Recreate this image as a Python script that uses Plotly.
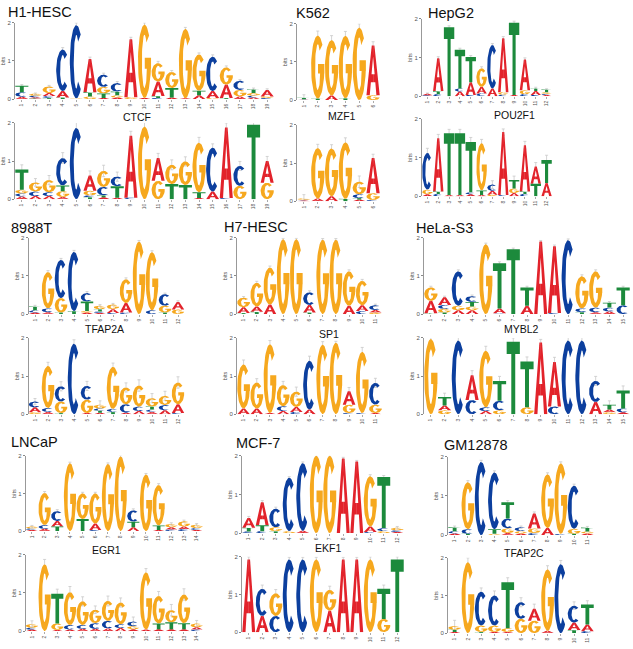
import numpy as np
import plotly.graph_objects as go

W, H = 633, 649

# cell line (de novo logo, top) and the known motif it matches (bottom)
CELL_LINES = ["H1-HESC", "K562", "HepG2", "8988T", "H7-HESC", "HeLa-S3", "LNCaP", "MCF-7", "GM12878"]
KNOWN_MOTIFS = ["CTCF", "MZF1", "POU2F1", "TFAP2A", "SP1", "MYBL2", "EGR1", "EKF1", "TFAP2C"]

# each position = stack of (base, bits) from bottom to top
H1_HESC = [
    [("A", 0.06), ("C", 0.12), ("T", 0.17)],
    [("T", 0.02), ("A", 0.03), ("C", 0.04), ("G", 0.05)],
    [("T", 0.03), ("C", 0.05), ("A", 0.08), ("G", 0.17)],
    [("T", 0.04), ("A", 0.17), ("C", 1.09)],
    [("G", 0.02), ("C", 1.92)],
    [("G", 0.07), ("T", 0.11), ("A", 0.87)],
    [("A", 0.03), ("T", 0.12), ("G", 0.17), ("C", 0.32)],
    [("A", 0.04), ("G", 0.06), ("T", 0.1), ("C", 0.22)],
    [("G", 0.05), ("A", 1.52)],
    [("A", 0.03), ("G", 1.92)],
    [("C", 0.03), ("T", 0.05), ("A", 0.38), ("G", 0.48)],
    [("A", 0.04), ("T", 0.25), ("G", 0.42)],
    [("A", 0.02), ("G", 1.82)],
    [("A", 0.1), ("T", 0.12), ("G", 0.95)],
    [("G", 0.03), ("A", 0.18), ("C", 0.9)],
    [("T", 0.03), ("A", 0.35), ("G", 0.45)],
    [("A", 0.07), ("G", 0.17), ("C", 0.24)],
    [("A", 0.04), ("C", 0.05), ("G", 0.07), ("T", 0.1)],
    [("C", 0.03), ("G", 0.04), ("A", 0.17)],
]
CTCF = [
    [("A", 0.07), ("C", 0.08), ("G", 0.1), ("T", 0.53)],
    [("A", 0.08), ("C", 0.12), ("G", 0.24)],
    [("A", 0.08), ("C", 0.1), ("G", 0.32)],
    [("A", 0.06), ("G", 0.15), ("T", 0.15), ("C", 0.72)],
    [("C", 1.87)],
    [("T", 0.05), ("C", 0.05), ("G", 0.12), ("A", 0.4)],
    [("A", 0.05), ("T", 0.05), ("C", 0.22), ("G", 0.42)],
    [("A", 0.04), ("T", 0.3), ("C", 0.25)],
    [("C", 0.04), ("A", 1.62)],
    [("G", 1.9)],
    [("G", 0.48), ("A", 0.6)],
    [("T", 0.4), ("G", 0.5)],
    [("T", 0.37), ("G", 0.62)],
    [("A", 0.03), ("T", 0.15), ("G", 1.3)],
    [("A", 0.2), ("C", 1.15)],
    [("C", 0.03), ("A", 1.85)],
    [("G", 0.35), ("C", 0.52)],
    [("T", 1.95)],
    [("G", 0.43), ("A", 0.57)],
]
K562 = [
    [("A", 0.01), ("C", 0.01), ("T", 0.04)],
    [("T", 0.04), ("G", 1.65)],
    [("A", 0.12), ("G", 1.45)],
    [("T", 0.05), ("G", 1.63)],
    [("G", 1.9)],
    [("G", 0.13), ("A", 1.3)],
]
MZF1 = [
    [("A", 0.02), ("C", 0.02), ("G", 0.03)],
    [("A", 0.07), ("G", 1.32)],
    [("A", 0.13), ("G", 1.25)],
    [("T", 0.06), ("G", 1.48)],
    [("A", 0.04), ("T", 0.04), ("C", 0.1), ("G", 0.33)],
    [("C", 0.03), ("G", 0.18), ("A", 0.92)],
]
HEPG2 = [
    [("C", 0.02), ("A", 0.04)],
    [("C", 0.05), ("T", 0.08), ("A", 0.85)],
    [("T", 1.78)],
    [("A", 0.12), ("C", 0.08), ("T", 1.0)],
    [("C", 0.03), ("A", 0.33), ("T", 0.65)],
    [("C", 0.07), ("A", 0.17), ("G", 0.48)],
    [("A", 0.2), ("C", 1.12)],
    [("C", 0.04), ("G", 0.06), ("A", 1.4)],
    [("A", 0.03), ("T", 1.87)],
    [("C", 0.05), ("G", 0.1), ("A", 0.8)],
    [("C", 0.03), ("A", 0.1), ("T", 0.07)],
    [("A", 0.03), ("C", 0.03), ("G", 0.04), ("T", 0.07)],
]
POU2F1 = [
    [("A", 0.05), ("G", 0.12), ("C", 0.95)],
    [("C", 0.06), ("T", 0.06), ("A", 1.38)],
    [("A", 0.03), ("T", 1.6)],
    [("A", 0.03), ("T", 1.6)],
    [("A", 0.05), ("C", 0.05), ("T", 1.3)],
    [("A", 0.03), ("T", 0.12), ("G", 1.22)],
    [("G", 0.04), ("A", 0.1), ("C", 0.16)],
    [("C", 0.03), ("A", 1.63)],
    [("A", 0.08), ("G", 0.12), ("T", 0.22)],
    [("C", 0.06), ("T", 0.06), ("A", 1.2)],
    [("T", 0.32), ("A", 0.45)],
    [("A", 0.34), ("T", 0.6)],
]
T8988 = [
    [("A", 0.04), ("C", 0.06), ("T", 0.1)],
    [("A", 0.05), ("C", 0.1), ("G", 0.95)],
    [("T", 0.04), ("G", 0.38), ("C", 1.0)],
    [("T", 0.08), ("C", 1.55)],
    [("A", 0.04), ("G", 0.04), ("T", 0.25), ("C", 0.22)],
    [("A", 0.03), ("C", 0.04), ("T", 0.06), ("G", 0.09)],
    [("C", 0.03), ("A", 0.1), ("G", 0.12)],
    [("C", 0.04), ("A", 0.25), ("G", 0.62)],
    [("G", 1.9)],
    [("C", 0.1), ("G", 1.52)],
    [("T", 0.04), ("G", 0.18), ("C", 0.3)],
    [("G", 0.12), ("A", 0.2)],
]
TFAP2A = [
    [("G", 0.05), ("A", 0.13), ("C", 0.15)],
    [("A", 0.06), ("C", 0.1), ("G", 1.1)],
    [("T", 0.03), ("G", 0.3), ("C", 0.4)],
    [("C", 1.85)],
    [("A", 0.03), ("G", 0.35), ("C", 0.36)],
    [("A", 0.04), ("T", 0.05), ("C", 0.06), ("G", 0.1)],
    [("T", 0.06), ("C", 0.08), ("G", 1.1)],
    [("A", 0.04), ("C", 0.22), ("G", 0.44)],
    [("A", 0.08), ("C", 0.12), ("G", 0.55)],
    [("A", 0.06), ("C", 0.06), ("T", 0.08), ("G", 0.22)],
    [("A", 0.1), ("C", 0.14), ("G", 0.24)],
    [("C", 0.03), ("A", 0.23), ("G", 0.57)],
]
H7_HESC = [
    [("T", 0.03), ("A", 0.15), ("G", 0.25)],
    [("T", 0.06), ("A", 0.14), ("G", 0.62)],
    [("A", 0.25), ("G", 0.97)],
    [("G", 1.96)],
    [("G", 1.96)],
    [("T", 0.04), ("A", 0.2), ("C", 0.33)],
    [("G", 1.95)],
    [("G", 1.95)],
    [("A", 0.22), ("G", 0.9)],
    [("C", 0.08), ("A", 0.15), ("G", 0.64)],
    [("G", 0.04), ("A", 0.07), ("C", 0.12)],
]
SP1 = [
    [("A", 0.15), ("G", 1.15)],
    [("A", 0.15), ("G", 0.68)],
    [("A", 0.03), ("G", 1.8)],
    [("A", 0.08), ("C", 0.13), ("G", 0.55)],
    [("C", 0.06), ("A", 0.13), ("G", 0.4)],
    [("A", 0.12), ("C", 1.28)],
    [("G", 1.82)],
    [("G", 1.87)],
    [("C", 0.03), ("G", 0.22), ("A", 0.35)],
    [("C", 0.03), ("G", 1.6)],
    [("A", 0.03), ("G", 0.22), ("C", 0.57)],
]
HELA_S3 = [
    [("T", 0.02), ("A", 0.33), ("G", 0.35)],
    [("T", 0.04), ("G", 0.1), ("C", 0.1), ("A", 0.2)],
    [("A", 0.1), ("G", 0.12), ("C", 0.9)],
    [("A", 0.1), ("G", 0.1), ("T", 0.12), ("C", 0.15)],
    [("G", 1.83)],
    [("C", 0.02), ("A", 0.13), ("T", 1.18)],
    [("T", 1.7)],
    [("A", 0.22), ("T", 0.48)],
    [("A", 1.9)],
    [("C", 0.03), ("A", 1.75)],
    [("C", 1.94)],
    [("T", 0.05), ("C", 0.1), ("G", 0.84)],
    [("A", 0.05), ("C", 0.12), ("G", 0.95)],
    [("A", 0.07), ("C", 0.1), ("T", 0.13)],
    [("C", 0.23), ("T", 0.47)],
]
MYBL2 = [
    [("G", 1.97)],
    [("G", 0.1), ("A", 0.13), ("T", 0.22)],
    [("C", 1.93)],
    [("C", 0.37), ("A", 0.65)],
    [("A", 0.08), ("C", 0.1), ("G", 1.48)],
    [("G", 0.1), ("C", 0.25), ("T", 0.52)],
    [("T", 1.9)],
    [("G", 0.18), ("T", 1.2)],
    [("A", 1.88)],
    [("C", 0.2), ("A", 1.17)],
    [("C", 1.93)],
    [("C", 1.93)],
    [("A", 0.32), ("C", 0.55)],
    [("G", 0.05), ("A", 0.07), ("T", 0.13)],
    [("A", 0.05), ("C", 0.1), ("T", 0.47)],
]
LNCAP = [
    [("A", 0.03), ("C", 0.04), ("G", 0.05)],
    [("A", 0.06), ("C", 0.1), ("G", 0.85)],
    [("T", 0.12), ("A", 0.15), ("C", 0.26)],
    [("G", 1.8)],
    [("T", 0.32), ("G", 0.68)],
    [("C", 0.03), ("A", 0.17), ("G", 0.8)],
    [("G", 1.78)],
    [("G", 1.98)],
    [("A", 0.1), ("T", 0.15), ("C", 0.3)],
    [("G", 1.5)],
    [("A", 0.03), ("T", 0.12), ("G", 1.07)],
    [("C", 0.04), ("A", 0.06), ("G", 0.09)],
    [("C", 0.05), ("A", 0.07), ("G", 0.14)],
    [("A", 0.03), ("C", 0.05), ("G", 0.09)],
]
EGR1 = [
    [("A", 0.04), ("C", 0.05), ("G", 0.1)],
    [("G", 1.75)],
    [("A", 0.03), ("G", 0.17), ("T", 0.78)],
    [("A", 0.04), ("C", 0.12), ("G", 0.86)],
    [("A", 0.06), ("C", 0.1), ("G", 0.62)],
    [("A", 0.06), ("C", 0.15), ("G", 0.35)],
    [("A", 0.07), ("C", 0.2), ("G", 0.52)],
    [("A", 0.08), ("C", 0.1), ("G", 0.57)],
    [("A", 0.05), ("G", 0.08), ("C", 0.12)],
    [("A", 0.04), ("G", 1.5)],
    [("A", 0.05), ("T", 0.15), ("G", 0.72)],
    [("A", 0.05), ("T", 0.18), ("G", 0.32)],
    [("A", 0.05), ("T", 0.16), ("G", 0.75)],
    [("C", 0.04), ("A", 0.06), ("G", 0.1)],
]
MCF7 = [
    [("C", 0.04), ("T", 0.1), ("A", 0.25)],
    [("C", 0.05), ("T", 0.15), ("A", 0.6)],
    [("T", 0.05), ("G", 0.1), ("C", 0.48)],
    [("G", 0.05), ("C", 1.38)],
    [("A", 0.06), ("C", 1.75)],
    [("G", 2.0)],
    [("G", 2.0)],
    [("A", 1.93)],
    [("A", 1.85)],
    [("C", 0.03), ("A", 0.14), ("G", 1.3)],
    [("G", 0.05), ("C", 0.08), ("T", 1.32)],
    [("A", 0.03), ("C", 0.04), ("G", 0.07)],
]
EKF1 = [
    [("A", 1.93)],
    [("A", 0.43), ("C", 0.72)],
    [("C", 0.43), ("G", 0.6)],
    [("C", 1.93)],
    [("C", 1.93)],
    [("G", 1.93)],
    [("A", 0.57), ("G", 0.55)],
    [("A", 1.93)],
    [("A", 1.93)],
    [("G", 1.93)],
    [("G", 0.35), ("T", 0.8)],
    [("T", 1.93)],
]
GM12878 = [
    [("A", 0.04), ("C", 0.06), ("T", 0.1)],
    [("T", 0.03), ("C", 0.12), ("G", 1.2)],
    [("C", 1.87)],
    [("G", 0.03), ("T", 0.12), ("C", 1.45)],
    [("A", 0.05), ("G", 0.12), ("C", 0.25), ("T", 0.42)],
    [("A", 0.04), ("G", 0.06), ("C", 0.1)],
    [("C", 0.05), ("G", 0.12), ("A", 0.38)],
    [("A", 0.18), ("G", 1.37)],
    [("C", 0.03), ("G", 1.8)],
    [("T", 0.03), ("G", 0.13), ("C", 1.1)],
    [("A", 0.04), ("G", 0.05), ("T", 0.1)],
]
TFAP2C = [
    [("A", 0.03), ("T", 0.06), ("G", 0.1)],
    [("G", 1.88)],
    [("T", 0.03), ("G", 0.17), ("C", 0.9)],
    [("A", 0.03), ("G", 0.17), ("C", 0.8)],
    [("A", 0.03), ("G", 0.1), ("T", 1.22)],
    [("G", 0.38), ("C", 0.44)],
    [("G", 0.33), ("A", 0.32)],
    [("A", 0.06), ("G", 1.63)],
    [("C", 1.83)],
    [("T", 0.08), ("A", 0.2), ("C", 0.45)],
    [("C", 0.05), ("A", 0.18), ("T", 0.53)],
]

# small error bars above each stack (bits)
H1_HESC_ERR = [0.03, 0.02, 0.03, 0.05, 0.06, 0.05, 0.04, 0.04, 0.05, 0.05, 0.05, 0.04, 0.04, 0.04, 0.05, 0.04, 0.03, 0.03, 0.03]
CTCF_ERR = [0.12, 0.1, 0.12, 0.14, 0.14, 0.12, 0.15, 0.12, 0.12, 0.15, 0.12, 0.13, 0.12, 0.14, 0.1, 0.12, 0.12, 0.1, 0.12]
K562_ERR = [0.08, 0.12, 0.12, 0.12, 0.1, 0.1]
MZF1_ERR = [0.1, 0.1, 0.1, 0.12, 0.15, 0.1]
HEPG2_ERR = [0.02, 0.04, 0.04, 0.04, 0.04, 0.04, 0.04, 0.04, 0.04, 0.04, 0.03, 0.02]
POU2F1_ERR = [0.12, 0.1, 0.1, 0.1, 0.12, 0.1, 0.1, 0.08, 0.1, 0.1, 0.1, 0.12]
T8988_ERR = [0.03, 0.04, 0.04, 0.04, 0.04, 0.03, 0.03, 0.04, 0.03, 0.04, 0.03, 0.03]
TFAP2A_ERR = [0.08, 0.1, 0.12, 0.1, 0.12, 0.1, 0.1, 0.12, 0.15, 0.12, 0.12, 0.15]
H7_HESC_ERR = [0.03, 0.04, 0.04, 0.03, 0.03, 0.04, 0.03, 0.03, 0.04, 0.04, 0.03]
SP1_ERR = [0.12, 0.1, 0.1, 0.1, 0.12, 0.12, 0.08, 0.04, 0.1, 0.12, 0.12]
HELA_S3_ERR = [0.03, 0.03, 0.04, 0.03, 0.03, 0.04, 0.03, 0.03, 0.03, 0.03, 0.03, 0.04, 0.04, 0.03, 0.03]
MYBL2_ERR = [0.08, 0.1, 0.08, 0.12, 0.12, 0.12, 0.1, 0.12, 0.08, 0.12, 0.1, 0.1, 0.12, 0.1, 0.12]
LNCAP_ERR = [0.03, 0.04, 0.04, 0.03, 0.03, 0.03, 0.03, 0.03, 0.04, 0.03, 0.04, 0.03, 0.03, 0.03]
EGR1_ERR = [0.08, 0.13, 0.12, 0.15, 0.12, 0.1, 0.13, 0.12, 0.12, 0.1, 0.12, 0.15, 0.15, 0.08]
MCF7_ERR = [0.04, 0.04, 0.04, 0.03, 0.03, 0.03, 0.03, 0.03, 0.03, 0.04, 0.04, 0.03]
EKF1_ERR = [0.07, 0.1, 0.1, 0.06, 0.06, 0.06, 0.1, 0.06, 0.06, 0.07, 0.1, 0.07]
GM12878_ERR = [0.03, 0.04, 0.04, 0.04, 0.04, 0.03, 0.04, 0.04, 0.04, 0.04, 0.03]
TFAP2C_ERR = [0.15, 0.12, 0.1, 0.12, 0.12, 0.12, 0.12, 0.1, 0.1, 0.1, 0.1]

TOP = [H1_HESC, K562, HEPG2, T8988, H7_HESC, HELA_S3, LNCAP, MCF7, GM12878]
TOP_ERR = [H1_HESC_ERR, K562_ERR, HEPG2_ERR, T8988_ERR, H7_HESC_ERR, HELA_S3_ERR, LNCAP_ERR, MCF7_ERR, GM12878_ERR]
BOTTOM = [CTCF, MZF1, POU2F1, TFAP2A, SP1, MYBL2, EGR1, EKF1, TFAP2C]
BOTTOM_ERR = [CTCF_ERR, MZF1_ERR, POU2F1_ERR, TFAP2A_ERR, SP1_ERR, MYBL2_ERR, EGR1_ERR, EKF1_ERR, TFAP2C_ERR]

COLORS = {"A": "#e2232b", "C": "#0c3f9e", "G": "#f6a81e", "T": "#1c8a3c"}

# pixel layout of each pair: x left/right, top logo (y of 2 bits, y of 0),
# bottom logo, cell-line title (left, middle), motif label (center, middle)
GEOM = [
    (15, 274, (20, 97), (121, 198), (7, 9.5), (137, 115)),
    (297, 380, (21, 98), (123, 200), (295, 10), (342, 114)),
    (422, 552, (16, 94), (117, 195), (427, 10), (514, 113)),
    (28.5, 184.5, (237, 314), (338, 415), (10, 227), (104, 329)),
    (237, 382, (237, 314), (338, 415), (223, 226.5), (329, 334)),
    (424, 630, (237, 314), (338, 415), (415, 227), (521, 329)),
    (25.6, 203, (457, 533), (557, 634), (10, 443.5), (107, 552)),
    (242, 404, (457, 535), (559, 635), (235, 444.5), (328, 550)),
    (448, 594, (458, 537), (560, 636), (443, 446), (524, 555)),
]
FONT = "Liberation Sans, Arial, sans-serif"


# ---- letter outlines in a unit box ----
def ring(a0, a1, n=48):
    t = np.radians(np.linspace(a0, a1, n))
    outer = [(0.5 + 0.5 * np.cos(a), 0.5 + 0.5 * np.sin(a)) for a in t]
    inner = [(0.5 + 0.2 * np.cos(a), 0.5 + 0.365 * np.sin(a)) for a in t[::-1]]
    return outer + inner


A_LEFT = [(0, 0), (0.25, 0), (0.333, 0.26), (0.505, 0.26), (0.505, 0.42), (0.385, 0.42),
          (0.5, 0.78), (0.505, 0.78), (0.505, 1), (0.4, 1)]
GLYPHS = {
    "A": [A_LEFT, [(1 - u, v) for u, v in A_LEFT]],
    "C": [ring(48, 312)],
    "G": [ring(45, 360), [(0.52, 0.4), (1, 0.4), (1, 0.55), (0.52, 0.55)]],
    "T": [[(0, 0.83), (1, 0.83), (1, 1), (0, 1)], [(0.35, 0), (0.65, 0), (0.65, 0.84), (0.35, 0.84)]],
}


def add_logo(fig, k, stacks, errs):
    xr = "x" if k == 1 else f"x{k}"
    yr = "y" if k == 1 else f"y{k}"
    pos = list(range(1, len(stacks) + 1))
    totals = [sum(h for _, h in s) for s in stacks]
    fig.add_trace(go.Scatter(
        x=pos, y=totals, mode="markers", xaxis=xr, yaxis=yr,
        marker=dict(size=1, color="rgba(0,0,0,0)"),
        error_y=dict(type="data", array=errs, color="#c9c9c9", thickness=0.8, width=1.5),
        hoverinfo="skip", cliponaxis=False, showlegend=False))
    xs = {b: [] for b in "ACGT"}
    ys = {b: [] for b in "ACGT"}
    for p, stack in zip(pos, stacks):
        y0 = 0
        for base, h in stack:
            for poly in GLYPHS[base]:
                for u, v in poly:
                    xs[base].append(p - 0.48 + 0.96 * u)
                    ys[base].append(y0 + v * h)
                xs[base].append(None)
                ys[base].append(None)
            y0 += h
    for b in "ACGT":
        fig.add_trace(go.Scatter(
            x=xs[b], y=ys[b], mode="lines", fill="toself", fillcolor=COLORS[b],
            line=dict(width=0, color=COLORS[b]), xaxis=xr, yaxis=yr,
            hoverinfo="skip", showlegend=False, cliponaxis=False))


fig = go.Figure()
axes = {}
notes = []
k = 0
for i in range(len(CELL_LINES)):
    x0, x1, top_px, bot_px, title_xy, motif_xy = GEOM[i]
    for stacks, errs, (py2, py0) in ((TOP[i], TOP_ERR[i], top_px), (BOTTOM[i], BOTTOM_ERR[i], bot_px)):
        k += 1
        add_logo(fig, k, stacks, errs)
        n = len(stacks)
        sfx = "" if k == 1 else str(k)
        axes["xaxis" + sfx] = dict(
            domain=[x0 / W, x1 / W], range=[0.5, n + 0.5], anchor="y" + sfx,
            tickvals=list(range(1, n + 1)), ticktext=[str(j) for j in range(1, n + 1)],
            tickangle=-90, tickfont=dict(size=5, color="#555", family=FONT),
            ticks="outside", ticklen=1.5, tickcolor="#aaa", tickwidth=0.6,
            showline=False, showgrid=False, zeroline=False, fixedrange=True)
        axes["yaxis" + sfx] = dict(
            domain=[1 - py0 / H, 1 - py2 / H], range=[0, 2], anchor="x" + sfx,
            tickvals=[0, 1, 2], tickfont=dict(size=6, color="#555", family=FONT),
            ticks="outside", ticklen=2, tickcolor="#888", tickwidth=0.8,
            showline=True, linecolor="#999", linewidth=0.8,
            showgrid=False, zeroline=False, fixedrange=True,
            title=dict(text="bits", font=dict(size=5.5, color="#555", family=FONT), standoff=1))
    notes.append(dict(text=CELL_LINES[i], x=title_xy[0] / W, y=1 - title_xy[1] / H,
                      xref="paper", yref="paper", xanchor="left", yanchor="middle",
                      showarrow=False, borderpad=0,
                      font=dict(size=14.5, color="#111", family=FONT)))
    notes.append(dict(text=KNOWN_MOTIFS[i], x=motif_xy[0] / W, y=1 - motif_xy[1] / H,
                      xref="paper", yref="paper", xanchor="center", yanchor="middle",
                      showarrow=False, borderpad=0,
                      font=dict(size=10.5, color="#111", family=FONT)))

fig.update_layout(
    width=W, height=H, margin=dict(l=0, r=0, t=0, b=0),
    paper_bgcolor="white", plot_bgcolor="white",
    showlegend=False, annotations=notes, **axes)

# the page's default 8px body margin would push the figure off the window
fig.write_html("out.html", config={"displayModeBar": False},
               post_script="document.body.style.margin='0px';")
